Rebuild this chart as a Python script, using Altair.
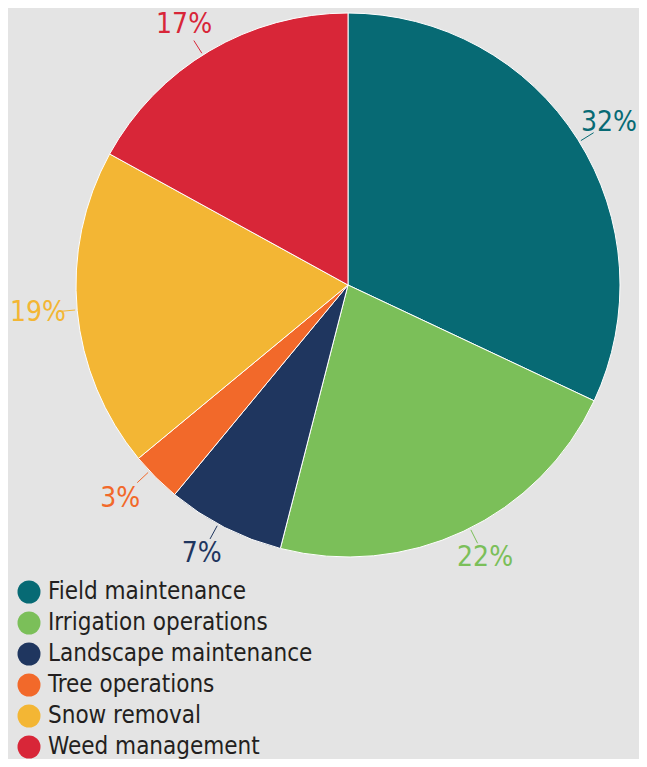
import math
import altair as alt
import pandas as pd

categories = ["Field maintenance", "Irrigation operations", "Landscape maintenance",
              "Tree operations", "Snow removal", "Weed management"]
values = [32, 22, 7, 3, 19, 17]
colors = ["#076a74", "#7bbf59", "#1f365f", "#f2692a", "#f3b634", "#d82638"]

df = pd.DataFrame({"category": categories, "value": values, "order": list(range(len(values)))})

FONT = "'Liberation Sans Narrow', 'DejaVu Sans Condensed', Roboto, sans-serif"
CX, CY, R = 340, 277, 272
LRX, LRY = 322, 302   # label ellipse radii
L0, L1 = 274, 289     # leader line radii
TWO_PI = 2 * math.pi

base = alt.Chart(df).transform_window(
    cum="sum(value)", sort=[alt.SortField("order")], frame=[None, 0]
).transform_calculate(
    start="datum.cum - datum.value",
    end="datum.cum",
    mid=f"(datum.cum - datum.value / 2) / 100 * {TWO_PI}",
).transform_calculate(
    lx=f"clamp({CX} + {LRX} * sin(datum.mid), 30, 601)",
    ly=f"max({CY} - {LRY} * cos(datum.mid), 14)",
).transform_calculate(
    la=f"atan2(datum.lx - {CX}, {CY} - datum.ly)",
).transform_calculate(
    ax=f"{CX} + {L0} * sin(datum.la)",
    ay=f"{CY} - {L0} * cos(datum.la)",
    bx=f"{CX} + {L1} * sin(datum.la)",
    by=f"{CY} - {L1} * cos(datum.la)",
    label="datum.value + '%'",
)

scale = alt.Scale(domain=categories, range=colors)
color = alt.Color(
    "category:N",
    scale=scale,
    legend=alt.Legend(
        title=None, orient="none", legendX=9, legendY=572,
        symbolType="circle", symbolSize=529, symbolStrokeWidth=0,
        labelFontSize=24, labelFont=FONT, labelColor="#231f20",
        labelOffset=7, rowPadding=7, labelLimit=400,
    ),
    sort=categories,
)

arcs = base.mark_arc(outerRadius=R, stroke="white", strokeWidth=1).encode(
    theta=alt.Theta("start:Q", scale=alt.Scale(domain=[0, 100], range=[0, TWO_PI])),
    theta2="end:Q",
    color=color,
    x=alt.value(CX),
    y=alt.value(CY),
)

lines = base.mark_rule(strokeWidth=1).encode(
    x=alt.X("ax:Q", scale=None), y=alt.Y("ay:Q", scale=None),
    x2="bx:Q", y2="by:Q",
    color=alt.Color("category:N", scale=scale, legend=None),
)

labels = base.mark_text(fontSize=28, font=FONT, align="center", baseline="middle").encode(
    x=alt.X("lx:Q", scale=None), y=alt.Y("ly:Q", scale=None),
    text="label:N",
    color=alt.Color("category:N", scale=scale, legend=None),
)

chart = alt.layer(arcs, lines, labels).properties(
    width=631, height=751, autosize=alt.AutoSizeParams(type="none"), padding=0,
    background="#e4e4e4",
).configure_view(stroke=None)

chart.save("out.html", embed_options={"renderer": "svg", "actions": False})
